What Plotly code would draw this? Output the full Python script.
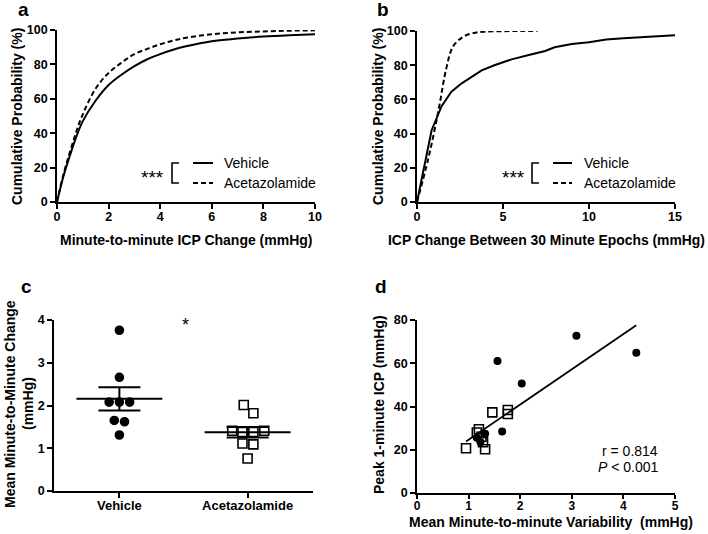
import numpy as np
import plotly.graph_objects as go

W, H = 708, 534
FONT = "Arial, Liberation Sans, sans-serif"

# ---- panel a: cumulative probability, minute-to-minute ICP change
a_x = [0, 0.25, 0.5, 0.75, 1, 1.5, 2, 2.5, 3, 3.5, 4, 4.5, 5, 6, 7, 8, 9, 10]
a_vehicle = [0, 15, 27, 38, 47, 59, 68, 74, 79, 83, 86, 88.5, 90.5, 93.5, 95, 96.2, 97, 97.6]
a_acetazolamide = [0, 16, 29, 41, 51, 66, 75, 81, 86, 89, 91.7, 93.8, 95.5, 97.5, 98.6, 99.2, 99.6, 99.8]

# ---- panel b: cumulative probability, change between 30 minute epochs
b_vehicle_x = [0, 0.37, 0.85, 1.43, 2.0, 2.6, 3.3, 3.76, 4.5, 5.5, 6.5, 7.45, 8, 9, 10, 11, 12, 13, 14, 15]
b_vehicle = [0, 18, 42, 56, 64.5, 69.4, 74.3, 77, 80, 83.4, 86, 88.3, 90.5, 92.4, 93.4, 95, 95.7, 96.3, 96.9, 97.5]
b_acet_x = [0, 0.66, 1.24, 1.7, 2.1, 2.7, 3.4, 4, 5, 6, 7]
b_acetazolamide = [0, 25.5, 53, 78, 91, 96.7, 99, 99.6, 99.9, 100, 100]

# ---- panel c: mean minute-to-minute change per animal
c_categories = ["Vehicle", "Acetazolamide"]
c_vehicle = [3.76, 2.66, 2.08, 2.08, 2.08, 1.65, 1.62, 1.31]
c_vehicle_jitter = [0, 0, -0.08, 0, 0.08, -0.04, 0.04, 0]
c_acet = [2.01, 1.82, 1.41, 1.38, 1.38, 1.41, 1.11, 1.09, 0.76]
c_acet_jitter = [-0.03, 0.045, -0.12, -0.04, 0.045, 0.13, -0.04, 0.045, 0]

# ---- panel d: variability vs peak ICP
d_vehicle_x = [1.16, 1.23, 1.32, 1.56, 1.65, 2.03, 3.09, 4.25]
d_vehicle_y = [25.5, 23.5, 27.4, 61, 28.4, 50.6, 72.7, 64.8]
d_acet_x = [0.95, 1.16, 1.2, 1.25, 1.28, 1.32, 1.46, 1.76, 1.76]
d_acet_y = [20.7, 28, 29.5, 26, 23.5, 20.2, 37.3, 38.4, 36.5]
fit_slope, fit_intercept = 16.3, 8.3


def px(x, y):
    return x / W, 1 - y / H


def dom(x0, x1, y0, y1):
    return [x0 / W, x1 / W], [1 - y1 / H, 1 - y0 / H]


fig = go.Figure()
black = "black"

# a
fig.add_trace(go.Scatter(x=a_x, y=a_vehicle, mode="lines", line=dict(color=black, width=2, shape="spline"),
                         xaxis="x", yaxis="y"))
fig.add_trace(go.Scatter(x=a_x, y=a_acetazolamide, mode="lines",
                         line=dict(color=black, width=2, dash="5px,3px", shape="spline"), xaxis="x", yaxis="y"))
# b
fig.add_trace(go.Scatter(x=b_vehicle_x, y=b_vehicle, mode="lines", line=dict(color=black, width=2),
                         xaxis="x2", yaxis="y2"))
fig.add_trace(go.Scatter(x=b_acet_x, y=b_acetazolamide, mode="lines",
                         line=dict(color=black, width=2, dash="5px,3px", shape="spline"), xaxis="x2", yaxis="y2"))

# c
for i, (vals, jit, sym) in enumerate([(c_vehicle, c_vehicle_jitter, "circle"),
                                      (c_acet, c_acet_jitter, "square-open")]):
    pos = i + 1
    vals = np.array(vals)
    mean = vals.mean()
    sem = vals.std(ddof=1) / np.sqrt(len(vals))
    fig.add_trace(go.Scatter(x=pos + np.array(jit), y=vals, mode="markers",
                             marker=dict(symbol=sym, size=8 if i == 0 else 9, color=black,
                                         line=dict(color=black, width=1.6)),
                             xaxis="x3", yaxis="y3"))
    fig.add_trace(go.Scatter(x=[pos - 0.335, pos + 0.335], y=[mean, mean], mode="lines",
                             line=dict(color=black, width=2), xaxis="x3", yaxis="y3"))
    fig.add_trace(go.Scatter(x=[pos], y=[mean], mode="markers", marker=dict(size=1, color="rgba(0,0,0,0)"),
                             error_y=dict(type="data", array=[sem], color=black, thickness=2, width=21),
                             xaxis="x3", yaxis="y3"))

# d
fig.add_trace(go.Scatter(x=d_vehicle_x, y=d_vehicle_y, mode="markers",
                         marker=dict(symbol="circle", size=8, color=black), xaxis="x4", yaxis="y4"))
fig.add_trace(go.Scatter(x=d_acet_x, y=d_acet_y, mode="markers",
                         marker=dict(symbol="square-open", size=9, color=black, line=dict(color=black, width=1.6)),
                         xaxis="x4", yaxis="y4"))
all_x = np.array(d_vehicle_x + d_acet_x)
fx = np.array([all_x.min(), all_x.max()])
fig.add_trace(go.Scatter(x=fx, y=fit_slope * fx + fit_intercept, mode="lines",
                         line=dict(color=black, width=1.8), xaxis="x4", yaxis="y4"))

tickfont = dict(family=FONT, size=12.5, color=black, weight="bold")
axis_common = dict(showline=True, linecolor=black, linewidth=1.6, ticks="outside", ticklen=5,
                   tickwidth=1.6, tickcolor=black, showgrid=False, zeroline=False, tickfont=tickfont,
                   fixedrange=True, automargin=False)
xaxis_common = dict(axis_common, ticklabelstandoff=-3)

xa, ya = dom(57, 315, 30, 202)
xb, yb = dom(417, 675, 31, 202)
xc, yc = dom(54, 313, 320, 491)
xd, yd = dom(417, 675, 320, 493)

fig.update_layout(
    width=W, height=H, autosize=False, margin=dict(l=0, r=0, t=0, b=0, pad=0),
    plot_bgcolor="white", paper_bgcolor="white", showlegend=False,
    xaxis=dict(domain=xa, anchor="y", range=[0, 10], tickvals=[0, 2, 4, 6, 8, 10], **xaxis_common),
    yaxis=dict(domain=ya, anchor="x", range=[0, 100], tickvals=[0, 20, 40, 60, 80, 100], **axis_common),
    xaxis2=dict(domain=xb, anchor="y2", range=[0, 15], tickvals=[0, 5, 10, 15], **xaxis_common),
    yaxis2=dict(domain=yb, anchor="x2", range=[0, 100], tickvals=[0, 20, 40, 60, 80, 100], **axis_common),
    xaxis3=dict(domain=xc, anchor="y3", range=[0.49, 2.51], tickvals=[1, 2], ticktext=c_categories,
                **{**xaxis_common, "tickfont": dict(tickfont, size=13)}),
    yaxis3=dict(domain=yc, anchor="x3", range=[0, 4], tickvals=[0, 1, 2, 3, 4], **axis_common),
    xaxis4=dict(domain=xd, anchor="y4", range=[0, 5], tickvals=[0, 1, 2, 3, 4, 5],
                **{**xaxis_common, "ticklen": 4, "tickfont": dict(tickfont, size=12)}),
    yaxis4=dict(domain=yd, anchor="x4", range=[0, 80], tickvals=[0, 20, 40, 60, 80], **axis_common),
)

ann = []


def text(x, y, s, size=14, bold=True, angle=0, xanchor="center", italic=False):
    fx_, fy_ = px(x, y)
    ann.append(dict(x=fx_, y=fy_, xref="paper", yref="paper", text=s, showarrow=False, textangle=angle,
                    xanchor=xanchor, yanchor="middle",
                    font=dict(family=FONT, size=size, color=black, weight="bold" if bold else "normal",
                              style="italic" if italic else "normal")))


# panel letters
text(23, 9, "a", size=19)
text(383, 9, "b", size=19)
text(26, 286, "c", size=19)
text(381, 286, "d", size=19)

# axis titles
text(17, 117, "Cumulative Probability (%)", angle=-90)
text(378, 117, "Cumulative Probability (%)", angle=-90)
text(186, 240, "Minute-to-minute ICP Change (mmHg)")
text(546, 240, "ICP Change Between 30 Minute Epochs (mmHg)", size=13.9)
text(10, 404, "Mean Minute-to-Minute Change", angle=-90)
text(28, 404, "(mmHg)", angle=-90)
text(379, 405, "Peak 1-minute ICP (mmHg)", angle=-90)
text(551, 522, "Mean Minute-to-minute Variability  (mmHg)")

# legends a, b
shapes = []
for stars_x, br_x, line_x0, line_x1, txt_x in [(152, 172, 193, 213, 222), (513, 532, 553, 572, 582)]:
    text(stars_x, 178, "***", size=19, bold=False)
    p = [px(br_x + 7, 163), px(br_x, 163), px(br_x, 183), px(br_x + 7, 183)]
    shapes.append(dict(type="path", xref="paper", yref="paper",
                       path="M %f,%f L %f,%f L %f,%f L %f,%f" % tuple(v for pt in p for v in pt),
                       line=dict(color=black, width=1.6)))
    for yy, dash in [(163, "solid"), (183, "5px,3px")]:
        x0, y0 = px(line_x0, yy)
        x1, _ = px(line_x1, yy)
        shapes.append(dict(type="line", xref="paper", yref="paper", x0=x0, x1=x1, y0=y0, y1=y0,
                           line=dict(color=black, width=2, dash=dash)))
    text(txt_x, 163, "Vehicle", bold=False, xanchor="left")
    text(txt_x, 183, "Acetazolamide", bold=False, xanchor="left")

# significance in c
text(185, 325, "*", size=18, bold=False)

# stats in d
text(660, 451, "r = 0.814", bold=False, xanchor="right")
text(661, 467, "<i>P</i> < 0.001", bold=False, xanchor="right")

fig.update_layout(annotations=ann, shapes=shapes)
fig.write_html("out.html", config={"displayModeBar": False},
               post_script="document.body.style.margin='0';document.body.style.overflow='hidden';")
